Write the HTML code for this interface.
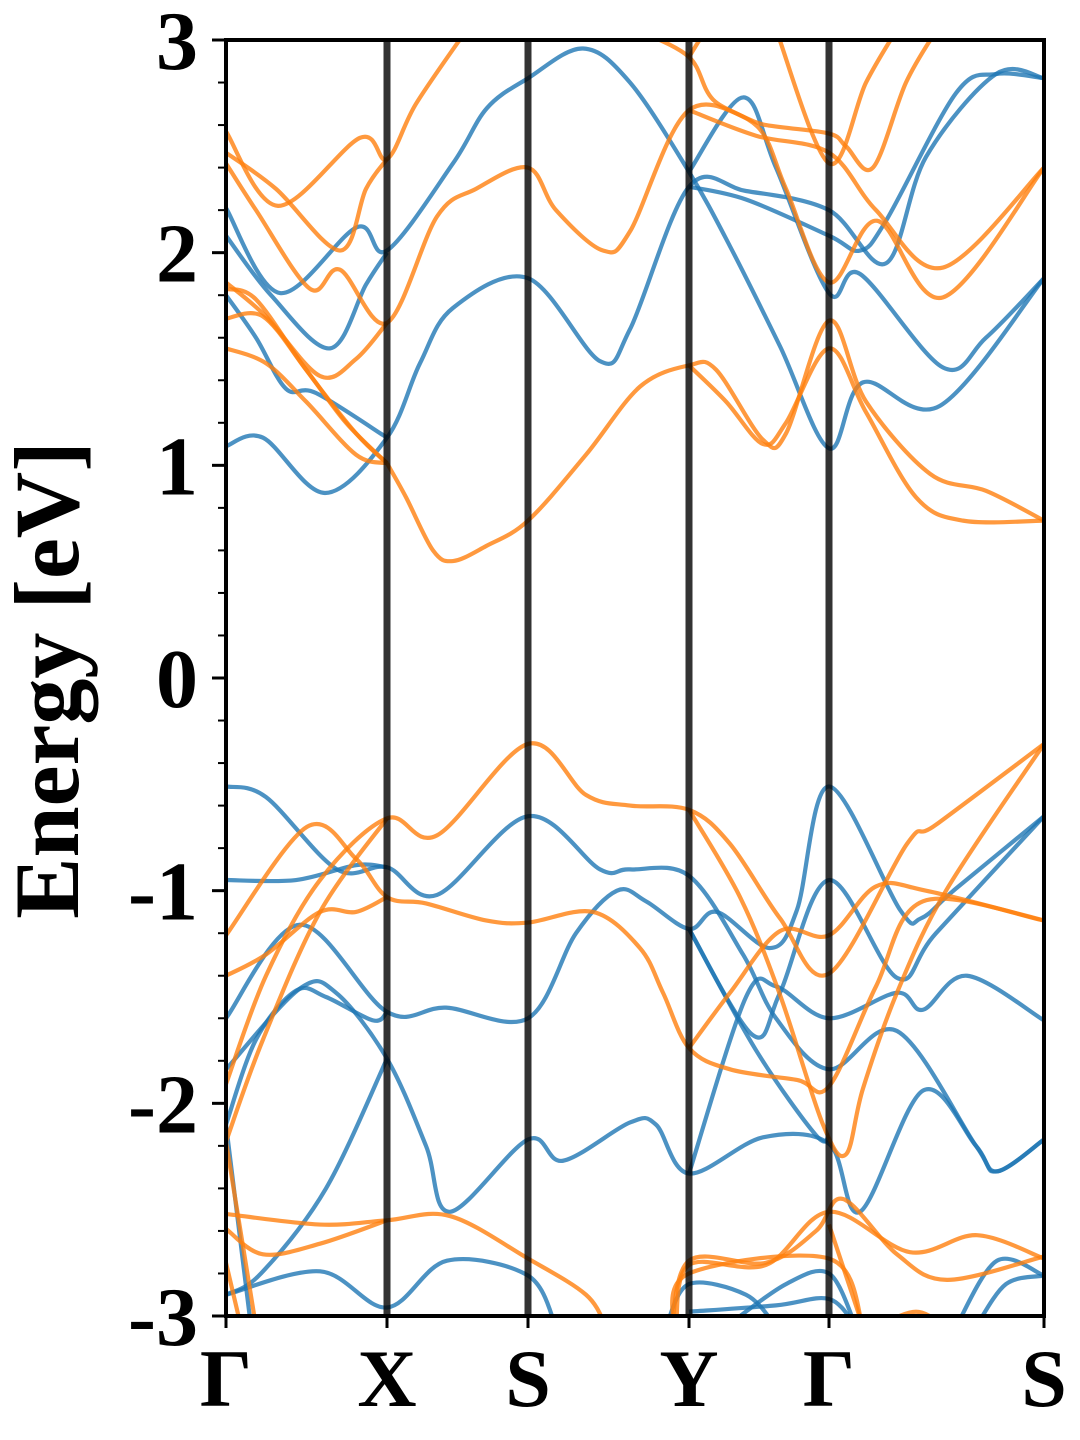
<!DOCTYPE html>
<html><head><meta charset="utf-8"><style>
html,body{margin:0;padding:0;background:#fff;}
svg{display:block;}
text{font-family:"Liberation Serif",serif;font-weight:bold;fill:#000;}
</style></head><body>
<svg id="chart" width="1080" height="1440" viewBox="0 0 1080 1440" xmlns="http://www.w3.org/2000/svg">
<defs><clipPath id="clip"><rect x="226" y="40" width="818" height="1276"/></clipPath></defs>
<g id="bands" clip-path="url(#clip)"></g>
<g id="vlines"></g>
<rect x="226" y="40" width="818" height="1276" fill="none" stroke="#000" stroke-width="4"/>
<g id="yaxis"></g>
<g id="xaxis"></g>
<text x="78" y="680" font-size="92" text-anchor="middle" transform="rotate(-90 78 680)">Energy [eV]</text>
</svg>
<script>
const kTicks = [0, 1.61, 3.02, 4.63, 6.03, 8.18];
const kLabels = ["Γ", "X", "S", "Y", "Γ", "S"];
const yTicks = [3, 2, 1, 0, -1, -2, -3];
const yTickLabels = ["3", "2", "1", "0", "-1", "-2", "-3"];
const blueBands = [
 [[0,1.09],[0.37,1.13],[0.99,0.87],[1.61,1.13],[1.94,1.48],[2.27,1.74],[3.02,1.88],[3.74,1.49],[4.04,1.64],[4.63,2.31],[5.2,2.29],[6.03,2.2],[6.6,1.95],[7.0,2.45],[7.7,2.84],[8.18,2.82]],
 [[0,2.21],[0.54,1.81],[1.31,2.12],[1.61,2.01],[2.27,2.42],[2.61,2.68],[3.02,2.82],[3.57,2.96],[4.04,2.8],[4.63,2.38],[5.04,2.03],[5.54,1.56],[6.03,1.08],[6.37,1.39],[7.14,1.28],[8.18,1.88]],
 [[0,2.08],[0.45,1.8],[1.04,1.55],[1.4,1.85],[1.61,2.0]],
 [[0,1.8],[0.3,1.6],[0.6,1.36],[0.9,1.34],[1.61,1.13]],
 [[4.63,2.38],[5.17,2.73],[5.5,2.4],[6.03,1.81],[6.34,1.9],[7.17,1.46],[7.6,1.6],[8.18,1.88]],
 [[4.63,2.31],[5.2,2.25],[6.03,2.08],[6.34,2.01],[6.6,2.15],[7.3,2.75],[7.7,2.84],[8.18,2.82]],
 [[0,-0.51],[0.4,-0.56],[1.11,-0.9],[1.61,-0.89],[2.11,-1.02],[3.02,-0.65],[3.74,-0.9],[4.04,-0.9],[4.63,-0.93],[5.17,-1.3],[5.5,-1.6],[6.03,-1.84],[6.71,-1.66],[7.5,-2.2],[7.71,-2.32],[8.18,-2.17]],
 [[0,-0.95],[0.7,-0.95],[1.3,-0.88],[1.61,-0.89]],
 [[0,-1.6],[0.74,-1.16],[1.61,-1.57],[2.2,-1.55],[3.02,-1.6],[3.5,-1.2],[3.91,-1.0],[4.2,-1.05],[4.63,-1.18],[4.91,-1.1],[5.44,-1.27],[5.71,-1.09],[6.03,-0.51],[6.74,-1.09],[6.95,-1.13],[7.3,-0.99],[8.18,-0.65]],
 [[0,-1.84],[0.74,-1.46],[1.1,-1.48],[1.61,-1.79],[2.0,-2.2],[2.24,-2.51],[3.02,-2.17],[3.37,-2.27],[4.04,-2.09],[4.3,-2.1],[4.63,-2.33],[5.37,-2.16],[6.03,-2.19],[6.34,-2.51],[6.97,-1.94],[7.5,-2.2],[7.71,-2.32],[8.18,-2.17]],
 [[0,-2.1],[0.3,-1.7],[0.7,-1.47],[1.0,-1.5],[1.47,-1.61],[1.61,-1.57]],
 [[0,-2.9],[0.94,-2.79],[1.61,-2.96],[2.21,-2.74],[3.02,-2.81],[3.3,-3.05]],
 [[0,-2.9],[0.35,-2.8],[1.0,-2.4],[1.61,-1.79]],
 [[4.63,-1.18],[5.27,-1.68],[5.54,-1.48],[6.03,-0.95],[6.71,-1.41],[7.1,-1.2],[8.18,-0.65]],
 [[4.63,-2.33],[5.2,-1.5],[5.5,-1.45],[6.03,-1.6],[6.71,-1.48],[6.97,-1.56],[7.41,-1.4],[8.18,-1.61]],
 [[4.63,-1.18],[5.3,-1.75],[5.9,-2.15],[6.03,-2.15]],
 [[0,-2.1],[0.25,-3.05]],
 [[7.3,-3.05],[7.71,-2.74],[8.18,-2.81]],
 [[7.5,-3.05],[7.8,-2.85],[8.18,-2.81]],
 [[4.4,-3.05],[4.63,-2.85],[5.2,-2.9],[5.5,-3.05]],
 [[4.63,-2.98],[5.5,-2.95],[6.03,-2.92],[6.3,-3.05]],
 [[5.0,-3.05],[5.6,-2.85],[6.03,-2.8],[6.3,-3.05]]
];
const orangeBands = [
 [[0,2.57],[0.52,2.22],[1.34,2.54],[1.61,2.44],[1.9,2.7],[2.41,3.05]],
 [[0,2.47],[0.5,2.3],[1.14,2.01],[1.4,2.3],[1.61,2.44]],
 [[0,2.42],[0.3,2.2],[0.84,1.83],[1.14,1.92],[1.61,1.67],[2.11,2.17],[2.5,2.3],[3.02,2.4],[3.3,2.2],[3.77,2.01],[4.04,2.1],[4.63,2.67],[5.4,2.6],[6.03,2.56],[6.2,2.5],[6.47,2.4],[6.8,2.8],[7.11,3.05]],
 [[0,1.86],[0.4,1.7],[0.94,1.42],[1.3,1.5],[1.61,1.67]],
 [[0,1.83],[0.3,1.78],[0.8,1.45],[1.3,1.15],[1.61,1.01]],
 [[0,1.69],[0.37,1.7],[0.8,1.45],[1.2,1.2],[1.61,1.01]],
 [[0,1.55],[0.4,1.48],[0.8,1.3],[1.3,1.05],[1.61,1.01]],
 [[1.61,1.01],[1.8,0.85],[2.07,0.6],[2.27,0.55],[2.6,0.62],[3.02,0.74],[3.6,1.05],[4.14,1.37],[4.63,1.47],[4.9,1.45],[5.37,1.12],[5.6,1.15],[6.03,1.68],[6.4,1.3],[7.04,0.96],[7.6,0.88],[8.18,0.74]],
 [[4.63,1.47],[5.0,1.3],[5.37,1.1],[5.6,1.2],[6.03,1.55],[6.4,1.25],[6.9,0.85],[7.37,0.74],[8.18,0.74]],
 [[4.1,3.05],[4.63,2.92],[4.87,2.72],[5.34,2.58],[5.6,2.3],[6.03,1.86],[6.51,2.15],[7.17,1.79],[8.18,2.4]],
 [[4.63,2.67],[5.3,2.55],[6.03,2.47],[6.5,2.2],[7.17,1.93],[8.18,2.4]],
 [[5.5,3.05],[6.03,2.42],[6.4,2.8],[6.71,3.05]],
 [[4.63,2.92],[4.8,3.05]],
 [[0,-1.21],[0.81,-0.70],[1.3,-0.85],[1.61,-1.03],[2.0,-1.06],[2.6,-1.14],[3.02,-1.15],[3.67,-1.1],[4.14,-1.27],[4.37,-1.48],[4.63,-1.74],[5.04,-1.84],[5.71,-1.89],[6.03,-1.92],[6.5,-1.45],[6.97,-1.05],[8.18,-1.14]],
 [[0,-1.4],[0.4,-1.3],[0.94,-1.1],[1.3,-1.1],[1.61,-1.03]],
 [[0,-1.91],[0.4,-1.4],[0.94,-0.95],[1.61,-0.66],[2.11,-0.74],[3.02,-0.31],[3.6,-0.55],[4.04,-0.6],[4.63,-0.62],[5.04,-0.78],[5.54,-1.13],[6.03,-1.39],[6.81,-0.78],[7.1,-0.69],[8.18,-0.31]],
 [[0,-2.18],[0.37,-1.7],[0.94,-1.1],[1.61,-0.66]],
 [[4.63,-0.62],[5.14,-1.03],[5.54,-1.49],[5.97,-2.1],[6.2,-2.24],[6.37,-1.93],[6.71,-1.48],[7.2,-1.0],[8.18,-0.31]],
 [[4.63,-1.74],[5.04,-1.48],[5.54,-1.19],[6.03,-1.21],[6.5,-0.98],[7.0,-1.0],[8.18,-1.14]],
 [[0,-2.52],[0.94,-2.57],[1.61,-2.55],[2.24,-2.53],[3.02,-2.73],[3.6,-2.9],[3.8,-3.05]],
 [[0,-2.59],[0.37,-2.71],[0.94,-2.66],[1.61,-2.55]],
 [[0,-2.18],[0.3,-3.05]],
 [[0,-2.75],[0.15,-3.05]],
 [[4.45,-3.1],[4.63,-2.74],[5.4,-2.75],[5.9,-2.6],[6.17,-2.45],[6.71,-2.71],[7.21,-2.83],[8.18,-2.72]],
 [[4.5,-3.05],[4.63,-2.76],[5.4,-2.76],[6.03,-2.51],[6.84,-2.7],[7.51,-2.62],[8.18,-2.73]],
 [[4.47,-3.05],[4.63,-2.8],[6.03,-2.73],[6.37,-3.05]],
 [[6.03,-2.57],[6.37,-3.05]],
 [[6.5,-3.05],[6.9,-2.98],[7.2,-3.05]]
];
const NS = "http://www.w3.org/2000/svg";
const X0 = 226, X1 = 1044, Y0 = 40, Y1 = 1316;
const kMax = kTicks[kTicks.length - 1];
function xs(k){ return X0 + k / kMax * (X1 - X0); }
function ys(e){ return Y1 - (e + 3) / 6 * (Y1 - Y0); }
function pathFor(pts){
  const p = pts.map(d => [xs(d[0]), ys(d[1])]);
  let s = "M" + p[0][0] + "," + p[0][1];
  for (let i = 0; i < p.length - 1; i++){
    const a = p[i-1] || p[i], b = p[i], c = p[i+1], d = p[i+2] || c;
    const c1x = b[0] + (c[0]-a[0])/6, c1y = b[1] + (c[1]-a[1])/6;
    const c2x = c[0] - (d[0]-b[0])/6, c2y = c[1] - (d[1]-b[1])/6;
    s += " C" + c1x + "," + c1y + " " + c2x + "," + c2y + " " + c[0] + "," + c[1];
  }
  return s;
}
const gB = document.getElementById("bands");
function drawBands(list, color, nm){
  list.forEach((b, i) => {
    const el = document.createElementNS(NS, "path");
    el.setAttribute("d", pathFor(b));
    el.setAttribute("fill", "none");
    el.setAttribute("stroke", color);
    el.setAttribute("stroke-opacity", "0.8");
    el.setAttribute("stroke-width", "4.2");
    
    
    gB.appendChild(el);
  });
}
drawBands(blueBands, "#1f77b4", "spin-up");
drawBands(orangeBands, "#ff7f0e", "spin-down");
const gV = document.getElementById("vlines");
const gX = document.getElementById("xaxis");
kTicks.forEach((k, i) => {
  if (i > 0 && i < kTicks.length - 1){
    const l = document.createElementNS(NS, "line");
    l.setAttribute("x1", xs(k)); l.setAttribute("x2", xs(k));
    l.setAttribute("y1", Y0); l.setAttribute("y2", Y1);
    l.setAttribute("stroke", "#000"); l.setAttribute("stroke-opacity", "0.8"); l.setAttribute("stroke-width", "7");
    
    
    gV.appendChild(l);
  }
  const t = document.createElementNS(NS, "line");
  t.setAttribute("x1", xs(k)); t.setAttribute("x2", xs(k));
  t.setAttribute("y1", Y1); t.setAttribute("y2", Y1 + 12);
  t.setAttribute("stroke", "#000"); t.setAttribute("stroke-width", "3");
  
  
  gX.appendChild(t);
  const tx = document.createElementNS(NS, "text");
  tx.setAttribute("x", xs(k)); tx.setAttribute("y", 1406);
  tx.setAttribute("font-size", "82"); tx.setAttribute("text-anchor", "middle");
  tx.textContent = kLabels[i];
  
  
  gX.appendChild(tx);
});
const gY = document.getElementById("yaxis");
for (let m = -30; m <= 30; m += 2){
  const e = m / 10;
  const major = (m % 10 === 0);
  const t = document.createElementNS(NS, "line");
  t.setAttribute("x1", X0); t.setAttribute("x2", X0 - (major ? 14 : 8));
  t.setAttribute("y1", ys(e)); t.setAttribute("y2", ys(e));
  t.setAttribute("stroke", "#000"); t.setAttribute("stroke-width", major ? "3" : "2");
  
  
  gY.appendChild(t);
}
yTicks.forEach((v, i) => {
  const tx = document.createElementNS(NS, "text");
  tx.setAttribute("x", 198); tx.setAttribute("y", ys(v) + 29);
  tx.setAttribute("font-size", "84"); tx.setAttribute("text-anchor", "end");
  tx.textContent = yTickLabels[i];
  
  
  gY.appendChild(tx);
});
</script>
</body></html>
